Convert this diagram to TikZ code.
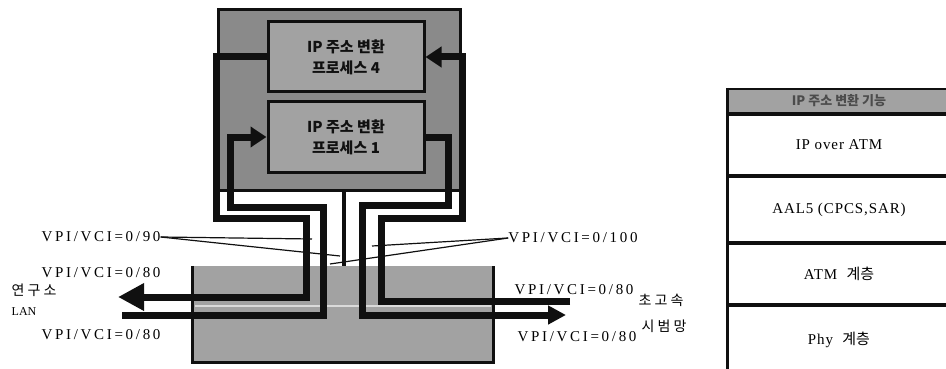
\documentclass[tikz,border=0pt]{standalone}
\usepackage{fontspec}
\setmainfont{Liberation Serif}
\newfontfamily\kofont{Noto Sans CJK KR}
\usetikzlibrary{arrows.meta,positioning,calc}
\definecolor{ink}{HTML}{101010}
\definecolor{scan}{HTML}{8A8A8A}
\definecolor{scanlt}{HTML}{A2A2A2}
\newcommand{\vpifont}{\addfontfeatures{LetterSpace=18}\fontsize{15}{17}\selectfont}

\begin{document}
\begin{tikzpicture}[x=1pt,y=-1pt,
  pipe/.style={draw=ink,line width=7pt,line join=miter},
  box/.style={draw=ink,line width=3pt,fill=scan,inner sep=0pt},
  proc/.style={box,fill=scanlt,minimum width=156pt,minimum height=70pt,align=center,text=ink,font=\kofont\bfseries\fontsize{15}{21}\selectfont},
  lbl/.style={font=\vpifont,inner sep=0pt},
  fan/.style={draw=ink,line width=1.2pt},
  layer/.style={draw=ink,line width=2pt,fill=white,minimum width=222pt,inner sep=0pt,font=\addfontfeatures{LetterSpace=6}\fontsize{15}{17}\selectfont}]
  \useasboundingbox (0,0) rectangle (946,369);
  % router with two conversion processes
  \node[box,minimum width=242pt,minimum height=180pt] (rtr) at (339,100) {};
  \node[proc] (p4) at (346,57) {IP 주소 변환\\프로세스 4};
  \node[proc] (p1) at (346,137) {IP 주소 변환\\프로세스 1};
  % ATM switch, open on top
  \node[fill=scanlt,minimum width=300pt,minimum height=96pt,inner sep=0pt] (sw) at (343,314) {};
  \draw[ink,line width=3pt] (sw.north west) -- (sw.south west) -- (sw.south east) -- (sw.north east);
  \draw[white!60!scanlt,line width=1.5pt] ($(sw.west)+(2,-8)$) -- ($(sw.east)+(-2,-8)$);
  % free ends
  \coordinate (lanout) at (118,297);
  \coordinate (lanin) at (122,315);
  \coordinate (netin) at (570,301);
  \coordinate (netout) at (566,315);
  \coordinate (mid) at (344,0);
  % thick VC pipes
  \draw[pipe,-{Triangle[length=26pt,width=26pt]}] (p4.west) -- (216,57) -- (216,218) -- (306,218) -- (306,297) -- (lanout);
  \draw[pipe,-{Triangle[length=16pt,width=20pt]}] (lanin) -- (323,315) -- (323,207) -- (230,207) -- (230,137) -- (p1.west);
  \draw[pipe,-{Triangle[length=16pt,width=20pt]}] (netin) -- (381,301) -- (381,218) -- (462,218) -- (462,57) -- (p4.east);
  \draw[pipe,-{Triangle[length=18pt,width=18pt]}] (p1.east) -- (448,137) -- (448,205) -- (362,205) -- (362,315) -- (netout);
  \draw[ink,line width=4pt] (mid |- rtr.south) -- (mid |- sw.north);
  % VPI/VCI labels
  \node[lbl] (v90) at (101,237) {VPI/VCI=0/90};
  \node[lbl] (v80a) at (101,273) {VPI/VCI=0/80};
  \node[lbl] (v80b) at (101,335) {VPI/VCI=0/80};
  \node[lbl] (v100) at (573,238) {VPI/VCI=0/100};
  \node[lbl] (v80c) at (574,290) {VPI/VCI=0/80};
  \node[lbl] (v80d) at (577,337) {VPI/VCI=0/80};
  \coordinate (l1) at (312,239);
  \coordinate (l2) at (340,256);
  \coordinate (r1) at (372,246);
  \coordinate (r2) at (330,264);
  \draw[fan] (v90.east) -- (l1);
  \draw[fan] (v90.east) -- (l2);
  \draw[fan] (v100.west) -- (r1);
  \draw[fan] (v100.west) -- (r2);
  \node[font=\kofont\fontsize{14}{16}\selectfont] (lab) at (34,290) {연 구 소};
  \node[font=\fontsize{12}{14}\selectfont,inner sep=0pt] (lan) at (24,312) {LAN};
  \node[font=\kofont\fontsize{14}{16}\selectfont] (kor) at (661,300) {초 고 속};
  \node[font=\kofont\fontsize{14}{16}\selectfont] (trial) at (664,326) {시 범 망};
  % protocol stack
  \node[layer,fill=scanlt,minimum height=24pt,anchor=north west,text=ink!75,font=\kofont\bfseries\fontsize{13}{15}\selectfont] (hd) at (727,88) {IP 주소 변환 기능};
  \node[layer,minimum height=60pt,below=0pt of hd] (ipa) {IP over ATM};
  \node[layer,minimum height=65pt,below=0pt of ipa] (aal) {AAL5 (CPCS,SAR)};
  \node[layer,minimum height=60pt,below=0pt of aal] (atm) {ATM\ \ {\kofont 계층}};
  \node[layer,minimum height=68pt,below=0pt of atm] (phy) {Phy\ \ {\kofont 계층}};
  \draw[ink,line width=3pt] (hd.north west) -- (phy.south west);
\end{tikzpicture}
\end{document}
